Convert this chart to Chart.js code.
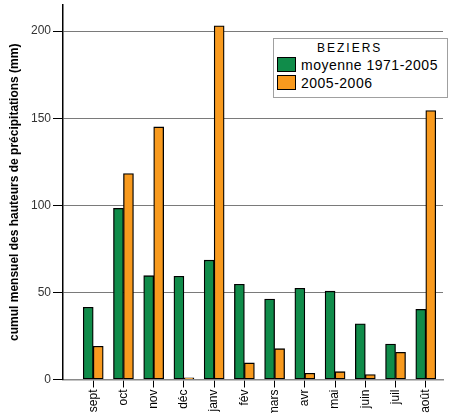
<!DOCTYPE html>
<html lang="fr">
<head>
<meta charset="UTF-8">
<title>Précipitations - Béziers</title>
<script src="https://cdn.jsdelivr.net/npm/chart.js"></script>
<style>
    body { margin: 0; background: #fff; font-family: "Liberation Sans", Arial, sans-serif; }
    #cadre { position: relative; width: 451px; height: 413px; }
    /* légende posée dans la zone du graphique */
    #legende { position: absolute; left: 273px; top: 38px; width: 175px; height: 60px;
               border: 1px solid #a0a0a0; background: #fff; box-sizing: border-box; color: #000; }
    #legende .titre { position: absolute; left: 43px; top: 2px; font-size: 12px; letter-spacing: 2px; }
    #legende .ligne { position: absolute; left: 3px; height: 17px; display: flex; align-items: center;
                      font-size: 14px; letter-spacing: 0.5px; white-space: nowrap; }
    #legende .carre { width: 19px; height: 15px; border: 1px solid #000; box-sizing: border-box; margin-right: 5px; }
</style>
</head>
<body>

<div id="cadre">
    <canvas id="pluie" width="451" height="413"></canvas>
    <div id="legende"><div class="titre">BEZIERS</div></div>
</div>

<script>
    // cumuls mensuels (mm)
    const mois = ['sept', 'oct', 'nov', 'déc', 'janv', 'fév', 'mars', 'avr', 'mai', 'juin', 'juil', 'août'];
    const moyenne = [41.5, 98.3, 59.6, 59.3, 68.5, 54.7, 46.2, 52.4, 50.7, 32.0, 20.4, 40.3];
    const campagne = [19.1, 118.2, 145.0, 1.0, 203.0, 9.5, 17.7, 3.6, 4.5, 2.8, 15.6, 154.4];
    const graduations = [0, 50, 100, 150, 200];

    const series = [
        { label: 'moyenne 1971-2005', valeurs: moyenne, couleur: '#108c4a' },
        { label: '2005-2006', valeurs: campagne, couleur: '#f89a1e' }
    ];

    const police = 'Liberation Sans, Arial, sans-serif';

    new Chart(document.getElementById('pluie'), {
        type: 'bar',
        data: {
            datasets: series.map(s => ({
                label: s.label,
                data: s.valeurs.map((v, i) => ({ x: i, y: v })),
                backgroundColor: s.couleur,
                borderColor: '#000',
                borderWidth: 1.3,
                borderSkipped: false,
                barThickness: 10
            }))
        },
        options: {
            responsive: false,
            animation: false,
            layout: { padding: { top: 5, right: 8, left: 0, bottom: 0 } },
            plugins: { legend: { display: false }, tooltip: { enabled: false } },
            scales: {
                x: {
                    type: 'linear',
                    offset: false,
                    min: -1,
                    max: 11.57,
                    afterBuildTicks: s => { s.ticks = mois.map((m, i) => ({ value: i })); },
                    afterFit: s => { s.height = 33.5; s.paddingLeft = 0; s.paddingRight = 0; },
                    ticks: {
                        autoSkip: false,
                        minRotation: 90,
                        maxRotation: 90,
                        padding: 2,
                        color: '#000',
                        font: { family: police, size: 12 },
                        callback: v => mois[v]
                    },
                    grid: { offset: false, drawOnChartArea: false, tickLength: 8, tickColor: '#000', tickWidth: 1 },
                    border: { color: '#8a8a8a', width: 1.5 }
                },
                y: {
                    min: 0,
                    max: 215,
                    afterBuildTicks: s => { s.ticks = graduations.map(v => ({ value: v })); },
                    afterFit: s => { s.width = 63; s.paddingTop = 0; s.paddingBottom = 0; },
                    ticks: { padding: 2, color: '#333', font: { family: police, size: 12 } },
                    grid: { color: '#7a7a7a', lineWidth: 1, tickLength: 10, tickColor: '#000' },
                    border: { color: '#000', width: 1.5 },
                    title: {
                        display: true,
                        text: 'cumul mensuel des hauteurs de précipitations (mm)',
                        color: '#000',
                        font: { family: police, size: 12, weight: 'bold' },
                        padding: { top: 7, bottom: 0 }
                    }
                }
            }
        }
    });

    // lignes de légende construites depuis les séries
    const legende = document.getElementById('legende');
    series.forEach((s, k) => {
        const ligne = document.createElement('div');
        ligne.className = 'ligne';
        ligne.style.top = (17 + k * 18) + 'px';
        ligne.innerHTML = '<span class="carre" style="background:' + s.couleur + '"></span>' + s.label;
        legende.appendChild(ligne);
    });
</script>
</body>
</html>
